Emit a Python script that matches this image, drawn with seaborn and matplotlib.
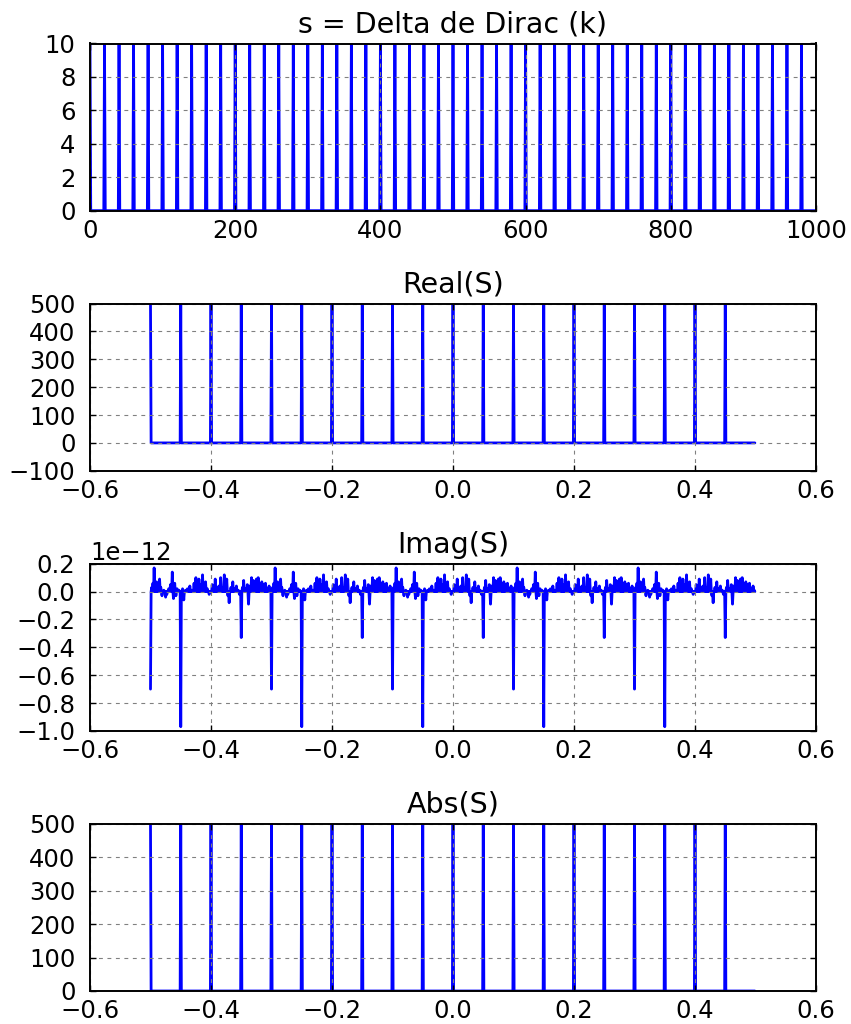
import numpy as np
import matplotlib
matplotlib.use("Agg")
import matplotlib.pyplot as plt
import seaborn as sns

# ---- time-domain signal: a Dirac comb ----
n_samples = 1000
comb_k = [0, 20, 40, 60, 80, 100, 120, 140, 160, 180,
          200, 220, 240, 260, 280, 300, 320, 340, 360, 380,
          400, 420, 440, 460, 480, 500, 520, 540, 560, 580,
          600, 620, 640, 660, 680, 700, 720, 740, 760, 780,
          800, 820, 840, 860, 880, 900, 920, 940, 960, 980]
comb_height = 10

# ---- spectrum lines (centred frequency axis) ----
line_freqs = [-0.50, -0.45, -0.40, -0.35, -0.30, -0.25, -0.20, -0.15, -0.10, -0.05,
              0.00, 0.05, 0.10, 0.15, 0.20, 0.25, 0.30, 0.35, 0.40, 0.45]
real_heights = [500, 500, 500, 500, 500, 500, 500, 500, 500, 500,
                500, 500, 500, 500, 500, 500, 500, 500, 500, 500]
abs_heights = [500, 500, 500, 500, 500, 500, 500, 500, 500, 500,
               500, 500, 500, 500, 500, 500, 500, 500, 500, 500]
# imaginary part at the lines, in units of 1e-12
imag_line_values = [-0.70, -0.97, 0.00, -0.33, -0.70, -0.97, 0.00, -0.33, -0.70, -0.97,
                    0.00, -0.33, -0.70, -0.97, 0.00, -0.33, -0.70, -0.97, 0.00, -0.33]

# round-off residue of the imaginary part between lines (units of 1e-12);
# the same residue repeats every 200 frequency bins
residue_period = 200
residue_offsets = [2, 4, 6, 8, 10, 13, 15, 17, 19, 22, 25, 27, 30, 33, 36, 38, 40, 42, 44, 47,
                   53, 55, 58, 61, 65, 68, 72, 75, 77, 80, 83, 86, 88, 91, 94, 97,
                   102, 105, 107, 110, 113, 116, 119, 122, 124, 126, 128, 130, 133, 136, 139,
                   142, 145, 147, 152, 154, 157, 160, 162, 164, 167, 170, 172, 175, 178,
                   181, 184, 187, 190, 193, 196, 198]
residue_values = [0.03, 0.06, 0.17, 0.05, 0.07, 0.02, 0.09, 0.03, -0.03, 0.01, -0.04, -0.02,
                  0.02, 0.05, 0.14, -0.05, 0.06, -0.03, 0.02, 0.01,
                  0.02, -0.06, 0.01, 0.02, 0.04, 0.01, 0.06, 0.10, 0.03, 0.09, 0.05, 0.12,
                  0.04, 0.07, 0.02, -0.02,
                  0.05, 0.03, 0.09, 0.02, 0.04, 0.10, 0.03, 0.12, 0.06, 0.09, -0.03, -0.08,
                  0.03, 0.07, 0.02, 0.04, 0.01, -0.02, 0.03, 0.08, 0.02, 0.05, -0.09, 0.04,
                  0.10, 0.08, 0.03, 0.09, 0.10, 0.04, 0.07, 0.05, 0.06, 0.02, 0.04, 0.01]

titles = ["s = Delta de Dirac (k)", "Real(S)", "Imag(S)", "Abs(S)"]

# ---- build the sampled arrays ----
k = np.arange(n_samples)
s = np.zeros(n_samples)
s[comb_k] = comb_height

freq = np.arange(-n_samples // 2, n_samples // 2) / n_samples
line_idx = np.searchsorted(freq, np.array(line_freqs) - 1e-9)

real_s = np.zeros(n_samples)
real_s[line_idx] = real_heights
abs_s = np.zeros(n_samples)
abs_s[line_idx] = abs_heights

imag_s = np.zeros(n_samples)
for start in range(0, n_samples, residue_period):
    imag_s[start + np.array(residue_offsets)] = residue_values
imag_s[line_idx] = imag_line_values
imag_s = imag_s * 1e-12

# ---- style ----
sns.set_style("white")
plt.rcParams.update({
    "font.family": ["DejaVu Sans"],
    "font.size": 17.5,
    "text.color": "black",
    "axes.titlecolor": "black",
    "axes.edgecolor": "black",
    "axes.linewidth": 1.4,
    "axes.axisbelow": False,
    "xtick.direction": "in",
    "ytick.direction": "in",
    "xtick.top": True,
    "ytick.right": True,
    "xtick.bottom": True,
    "ytick.left": True,
    "xtick.major.size": 4.5,
    "ytick.major.size": 4.5,
    "xtick.major.width": 1.0,
    "ytick.major.width": 1.0,
    "xtick.major.pad": 6.0,
    "ytick.major.pad": 10.5,
    "xtick.color": "black",
    "ytick.color": "black",
    "xtick.labelsize": 17.5,
    "ytick.labelsize": 17.5,
    "lines.scale_dashes": False,
    "axes.unicode_minus": True,
})

fig, axes = plt.subplots(4, 1, figsize=(8.51, 10.24), dpi=100)
fig.subplots_adjust(left=90 / 851, right=816 / 851, top=1 - 43.5 / 1024,
                    bottom=1 - 991 / 1024, hspace=0.556)

line_kw = dict(color="#0000ff", linewidth=2.0, estimator=None)

sns.lineplot(x=k, y=s, ax=axes[0], **line_kw)
axes[0].set_xlim(0, 1000)
axes[0].set_ylim(0, 10)
axes[0].set_xticks([0, 200, 400, 600, 800, 1000])
axes[0].set_yticks([0, 2, 4, 6, 8, 10])

sns.lineplot(x=freq, y=real_s, ax=axes[1], **line_kw)
axes[1].set_ylim(-100, 500)
axes[1].set_yticks([-100, 0, 100, 200, 300, 400, 500])

sns.lineplot(x=freq, y=imag_s, ax=axes[2], **line_kw)
axes[2].set_ylim(-1.0e-12, 0.2e-12)
axes[2].set_yticks(np.array([-1.0, -0.8, -0.6, -0.4, -0.2, 0.0, 0.2]) * 1e-12)

sns.lineplot(x=freq, y=abs_s, ax=axes[3], **line_kw)
axes[3].set_ylim(0, 500)
axes[3].set_yticks([0, 100, 200, 300, 400, 500])

for ax in axes[1:]:
    ax.set_xlim(-0.6, 0.6)
    ax.set_xticks([-0.6, -0.4, -0.2, 0.0, 0.2, 0.4, 0.6])

for ax, title in zip(axes, titles):
    ax.set_title(title, fontsize=20.5, pad=8, color="black")
    ax.grid(True, color="#808080", linewidth=0.8, linestyle=(0, (2.8, 3.3)))
    ax.set_xlabel("")
    ax.set_ylabel("")
    for sp in ax.spines.values():
        sp.set_visible(True)
        sp.set_color("black")
        sp.set_zorder(3)

axes[2].yaxis.get_offset_text().set_fontsize(17.5)

fig.savefig("out.png", dpi=100)
